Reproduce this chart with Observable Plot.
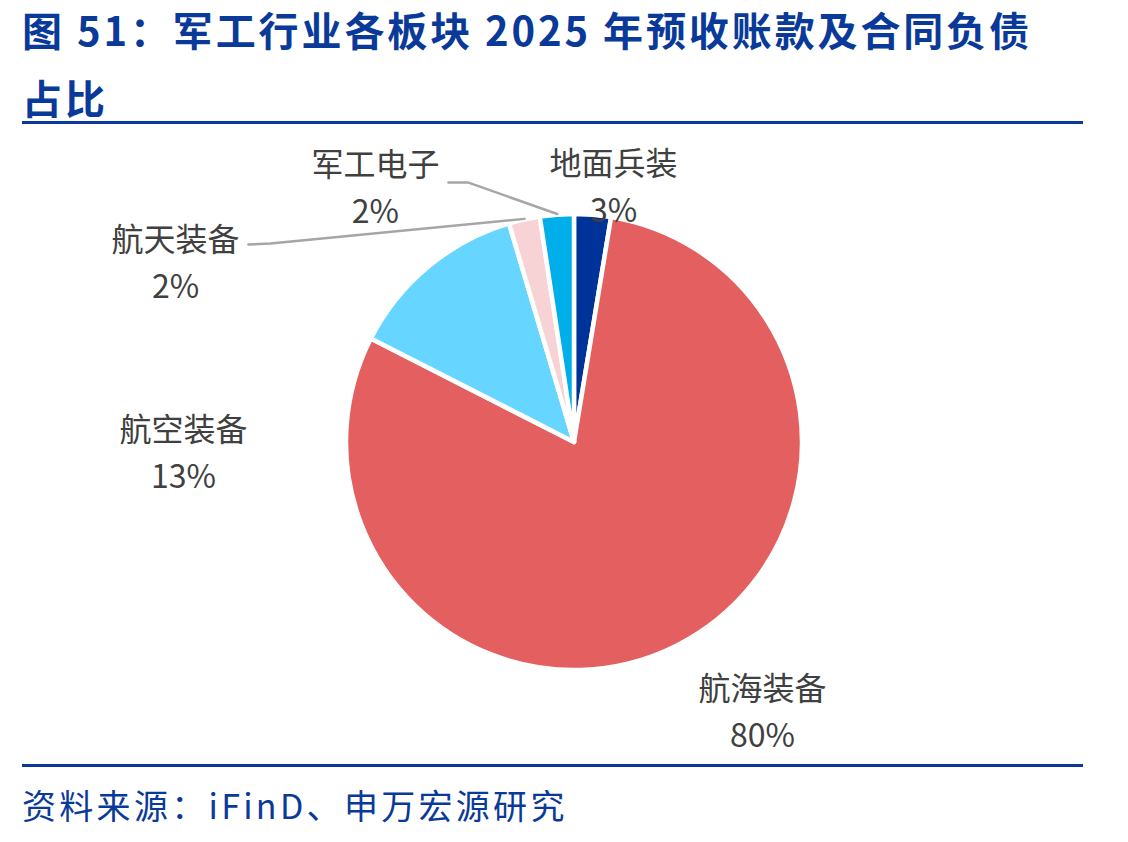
<!DOCTYPE html>
<html>
<head>
<meta charset="utf-8">
<script src="https://cdn.jsdelivr.net/npm/d3@7"></script>
<script src="https://cdn.jsdelivr.net/npm/@observablehq/plot@0.6"></script>
<style>
  html, body { margin: 0; padding: 0; background: #fff; }
  body { width: 1128px; height: 842px; position: relative; overflow: hidden; font-family: "Noto Sans CJK SC", "Noto Sans", sans-serif; }
  .title { position: absolute; left: 22px; font-size: 40px; font-weight: 700; color: #0a3a99; line-height: 50px; letter-spacing: 2.9px; white-space: nowrap; }
  .rule { position: absolute; left: 22px; width: 1061px; height: 3px; background: #0a3a99; }
  .source { position: absolute; left: 22px; top: 785px; font-size: 34px; color: #0a3a99; line-height: 40px; letter-spacing: 3.3px; white-space: nowrap; }
  #chart { position: absolute; left: 0; top: 130px; }
</style>
</head>
<body>
<div class="title" style="top:4px">图 51：军工行业各板块 2025 年预收账款及合同负债</div>
<div class="title" style="top:72px">占比</div>
<div class="rule" style="top:121px"></div>
<div id="chart"></div>
<div class="rule" style="top:764px"></div>
<div class="source">资料来源：iFinD、申万宏源研究</div>
<script>
// ---- data ----
const categories = ["地面兵装", "航海装备", "航空装备", "航天装备", "军工电子"];
const shares = [2.6, 79.9, 12.9, 2.2, 2.4];
const colors = ["#003399", "#e46060", "#66d5ff", "#f8d3d5", "#00aeea"];

// ---- layout (in units of the pie radius, origin at pie centre, y downwards) ----
const W = 1128, H = 630, R = 228, CX = 574, CY = 312;
const labelPos = {
  "地面兵装": [0.171, -1.135],
  "航海装备": [0.825, 1.165],
  "航空装备": [-1.715, 0.03],
  "航天装备": [-1.75, -0.805],
  "军工电子": [-0.873, -1.13]
};
const leaderPts = {
  "航天装备": [[-1.333, -0.873], [-1.43, -0.868]],
  "军工电子": [[-0.465, -1.14], [-0.553, -1.14]]
};

const table = categories.map((c, i) => ({category: c, share: shares[i], color: colors[i]}));
const arcs = d3.pie().sort(null).value(d => d.share).startAngle(0).endAngle(2 * Math.PI)(table);
arcs.forEach(a => { a.mid = (a.startAngle + a.endAngle) / 2; });

const labels = arcs.map(a => ({
  x: labelPos[a.data.category][0],
  y: labelPos[a.data.category][1],
  text: `${a.data.category}\n${Math.round(a.data.share)}%`
}));

const leaders = [];
arcs.forEach(a => {
  const pts = leaderPts[a.data.category];
  if (!pts) return;
  leaders.push({k: a.data.category, x: Math.sin(a.mid) * 1.005, y: -Math.cos(a.mid) * 1.005});
  pts.forEach(p => leaders.push({k: a.data.category, x: p[0], y: p[1]}));
});

const pieMark = (index, scales, values, dimensions) => {
  const cx = scales.x(0), cy = scales.y(0);
  const r = scales.x(1) - scales.x(0);
  const arcGen = d3.arc().innerRadius(0).outerRadius(r);
  const g = d3.create("svg:g").attr("transform", `translate(${cx},${cy})`);
  g.selectAll("path").data(arcs).join("path")
    .attr("d", arcGen)
    .attr("fill", d => d.data.color)
    .attr("stroke", "#fff")
    .attr("stroke-width", 4.5)
    .attr("stroke-linejoin", "round");
  return g.node();
};

const plot = Plot.plot({
  width: W,
  height: H,
  margin: 0,
  x: {domain: [-CX / R, (W - CX) / R], range: [0, W], axis: null},
  y: {domain: [-CY / R, (H - CY) / R], range: [0, H], axis: null},
  style: {fontFamily: '"Noto Sans CJK SC", "Noto Sans", sans-serif', background: "#fff"},
  marks: [
    pieMark,
    Plot.line(leaders, {x: "x", y: "y", z: "k", stroke: "#a6a6a6", strokeWidth: 2.5, curve: "linear"}),
    Plot.text(labels, {x: "x", y: "y", text: "text", fontSize: 32, fill: "#404040", lineHeight: 1.47, lineAnchor: "middle", textAnchor: "middle"})
  ]
});
document.getElementById("chart").appendChild(plot);
</script>
</body>
</html>
